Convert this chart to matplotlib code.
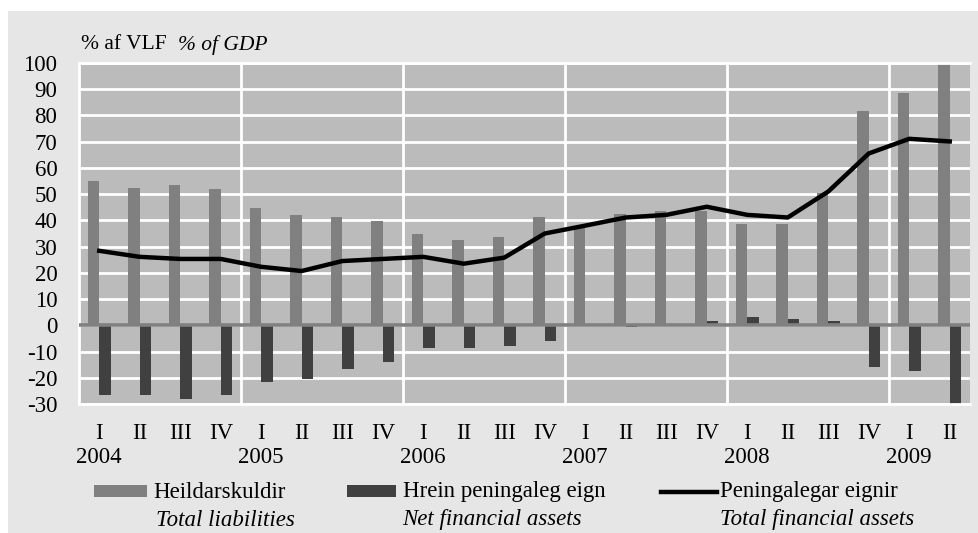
import matplotlib
matplotlib.use("Agg")
import matplotlib.pyplot as plt
import numpy as np
from matplotlib.patches import Rectangle
from matplotlib.lines import Line2D
from matplotlib.transforms import blended_transform_factory

plt.rcParams['font.family'] = ['Liberation Serif', 'DejaVu Serif']

quarters = ["I", "II", "III", "IV"] * 5 + ["I", "II"]
years = ["2004", "2005", "2006", "2007", "2008", "2009"]

total_liabilities = [55, 52.5, 53.3, 51.8, 44.9, 41.9, 41.1, 39.6,
                     35, 32.7, 33.5, 41.1, 37.5, 42.6, 43.4, 43.4,
                     38.8, 38.8, 50.3, 81.6, 88.4, 102]
net_financial = [-26.5, -26.5, -28.1, -26.5, -21.8, -20.4, -16.5, -14.1,
                 -8.8, -8.8, -8.0, -5.8, 0, -0.7, 0, 1.5,
                 3.2, 2.4, 1.5, -15.8, -17.3, -31]
total_financial = [28.4, 26.1, 25.3, 25.3, 22.3, 20.7, 24.5, 25.3,
                   26.1, 23.5, 25.8, 35, 38.0, 41.1, 42.1, 45.2,
                   42.1, 41.1, 51.0, 65.5, 71.1, 70.1]

FS = 16.5
W, H = 979, 533
fig = plt.figure(figsize=(W / 100, H / 100), dpi=100, facecolor='white')
fig.add_artist(Rectangle((8 / W, 0), (W - 8) / W, (H - 11) / H,
                         transform=fig.transFigure, facecolor='#e6e6e6',
                         edgecolor='none', zorder=-10))

ax = fig.add_axes([79 / W, (H - 404) / H, (970 - 79) / W, (404 - 63) / H])
ax.set_facecolor('#bbbbbb')

n = len(quarters)
centers = np.arange(n) + 0.5
bw = 0.29
ax.bar(centers - bw / 2, total_liabilities, width=bw, color='#808080', zorder=2)
ax.bar(centers + bw / 2, net_financial, width=bw, color='#404040', zorder=2)
ax.plot(centers, total_financial, color='black', lw=3.2, zorder=4,
        solid_joinstyle='round')
ax.axhline(0, color='#808080', lw=2.6, zorder=3)

ax.set_xlim(0, n)
ax.set_ylim(-30, 100)
ax.set_yticks(np.arange(-30, 101, 10))
ax.set_yticklabels([str(v) for v in range(-30, 101, 10)])
ax.set_xticks(centers)
ax.set_xticklabels(quarters)
ax.tick_params(axis='both', length=0, labelsize=FS)
ax.tick_params(axis='y', pad=15.5)
ax.tick_params(axis='x', pad=13.5)

for y in range(-30, 101, 10):
    ax.axhline(y, color='white', lw=2, zorder=1)
for x in range(4, n, 4):
    ax.axvline(x, color='white', lw=2, zorder=1)

for s in ['left', 'top', 'bottom']:
    ax.spines[s].set_color('white')
    ax.spines[s].set_linewidth(2)
ax.spines['right'].set_visible(False)

tr = blended_transform_factory(ax.transData, ax.transAxes)
for i, yr in enumerate(years):
    ax.text(centers[i * 4], -0.158, yr, transform=tr, ha='center', va='center',
            fontsize=FS)

fig.text(81 / W, 1 - 45 / H, "% af VLF", fontsize=15.5, va='center', ha='left')
fig.text(178 / W, 1 - 45 / H, "% of GDP", fontsize=15.5, va='center', ha='left',
         style='italic')

# legend
ly1 = 1 - 492 / H
ly2 = 1 - 520 / H
fig.add_artist(Rectangle((94 / W, 1 - 497 / H), 53 / W, 12 / H,
                         transform=fig.transFigure, facecolor='#808080', edgecolor='none'))
fig.add_artist(Rectangle((347 / W, 1 - 497 / H), 49 / W, 12 / H,
                         transform=fig.transFigure, facecolor='#404040', edgecolor='none'))
fig.add_artist(Line2D([661 / W, 717 / W], [ly1, ly1], transform=fig.transFigure,
                      color='black', lw=3.2))
fig.text(153 / W, ly1, "Heildarskuldir", fontsize=FS, va='center')
fig.text(156 / W, ly2, "Total liabilities", fontsize=FS, va='center', style='italic')
fig.text(403 / W, ly1, "Hrein peningaleg eign", fontsize=FS, va='center')
fig.text(402 / W, ly2, "Net financial assets", fontsize=FS, va='center', style='italic')
fig.text(720 / W, ly1, "Peningalegar eignir", fontsize=FS, va='center')
fig.text(720 / W, ly2, "Total financial assets", fontsize=FS, va='center', style='italic')

fig.savefig("out.png", dpi=100, facecolor='white')
